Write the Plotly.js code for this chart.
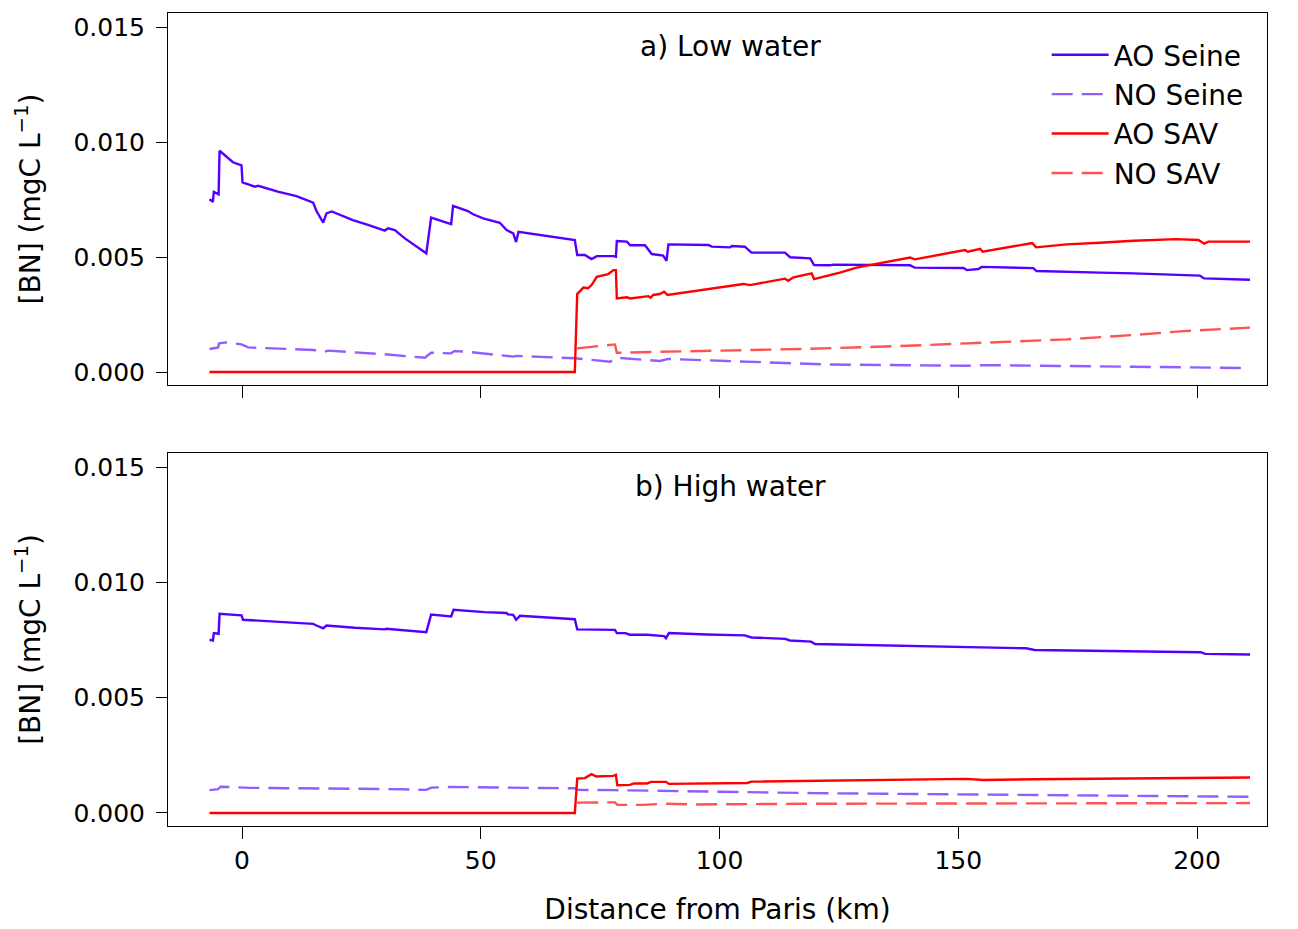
<!DOCTYPE html>
<html>
<head>
<meta charset="utf-8">
<script src="https://cdn.plot.ly/plotly-3.0.1.min.js"></script>
<style>html,body{margin:0;padding:0;background:#fff;}#chart{width:1298px;height:929px;}</style>
</head>
<body>
<div id="chart"></div>
<script>
// ---- a) Low water ----
const lowAoSeineKm = [-6.8,-6.1,-5.9,-4.9,-4.7,-3.3,-1.9,-0.1,0.1,2.7,3.4,7.5,11.4,14.9,15.6,17.0,17.7,18.8,23.2,26.4,29.9,30.6,32.0,34.1,36.2,38.6,39.6,43.8,44.2,47.3,48.4,50.5,54.0,55.4,56.8,57.4,57.9,69.7,70.2,71.8,73.2,74.3,77.8,78.3,78.5,80.6,81.3,84.4,85.8,88.2,88.9,89.3,97.7,98.4,102.2,102.6,105.3,106.7,113.7,114.8,119.0,119.8,123.1,123.8,139.9,140.9,151.1,151.8,154.2,154.9,165.7,166.4,179.7,186.7,200.6,201.5,211.1];
const lowAoSeine = [0.00751,0.0074,0.00783,0.00773,0.00962,0.00936,0.00912,0.00899,0.00825,0.00806,0.0081,0.00784,0.00765,0.00736,0.007,0.0065,0.0069,0.00698,0.0066,0.0064,0.00615,0.00625,0.00617,0.00581,0.00549,0.00516,0.00671,0.00643,0.00722,0.007,0.00686,0.00668,0.00649,0.00617,0.00603,0.00565,0.0061,0.00574,0.00509,0.00509,0.00491,0.00504,0.00504,0.00501,0.0057,0.00567,0.00551,0.00551,0.00513,0.00506,0.00483,0.00555,0.00552,0.00545,0.00542,0.00548,0.00545,0.00519,0.00519,0.00499,0.00494,0.00465,0.00464,0.00467,0.00464,0.00454,0.00452,0.00443,0.00448,0.00457,0.00452,0.00439,0.00432,0.00429,0.00419,0.00407,0.00401];

const lowNoSeineKm = [-6.8,-5.0,-4.8,-3.3,-0.1,1.3,14.9,17.3,18.0,29.9,38.3,39.6,43.8,44.4,47.3,56.8,57.5,69.7,77.1,78.5,87.5,89.3,101.5,117.6,122.4,151.8,155.2,186.7,211.1];
const lowNoSeine = [0.001,0.00107,0.00125,0.00129,0.0012,0.00107,0.00096,0.00088,0.00093,0.00077,0.00062,0.00084,0.00081,0.00091,0.00088,0.00067,0.0007,0.0006,0.00045,0.00062,0.00048,0.00057,0.00048,0.00038,0.00033,0.00027,0.0003,0.00023,0.00017];

const lowAoSavKm = [-6.8,69.7,70.2,71.5,72.5,73.2,74.3,76.7,77.8,78.3,78.5,80.6,81.3,85.1,85.6,86.1,87.5,88.4,89.1,98.0,105.0,106.4,113.7,114.4,115.5,119.3,119.8,125.2,128.7,139.9,140.9,151.4,152.0,154.6,155.1,165.0,165.5,166.3,172.7,179.7,186.7,195.7,200.3,201.5,202.4,211.1];
const lowAoSav = [0,0,0.00339,0.00367,0.00364,0.00378,0.00414,0.00426,0.00443,0.00443,0.0032,0.00325,0.0032,0.0033,0.00323,0.00335,0.00339,0.00349,0.00335,0.00361,0.00383,0.00378,0.00406,0.00397,0.00412,0.00429,0.00404,0.00432,0.00454,0.00498,0.0049,0.0053,0.00523,0.00536,0.00523,0.00559,0.00561,0.00542,0.00555,0.00562,0.00571,0.00578,0.00574,0.00558,0.00567,0.00567];

const lowNoSavKm = [70.2,73.6,78.1,78.5,79.5,87.5,101.5,116.9,137.8,158.7,172.7,186.7,197.1,211.1];
const lowNoSav = [0.00103,0.0011,0.0012,0.00084,0.00084,0.00088,0.00093,0.001,0.00113,0.00129,0.00142,0.00161,0.00178,0.00193];

// ---- b) High water ----
const highAoSeineKm = [-6.8,-6.1,-5.9,-4.9,-4.7,-0.1,0.2,2.7,14.9,15.6,17.0,17.7,23.6,29.9,30.2,38.6,39.6,43.8,44.3,50.8,55.4,55.7,56.8,57.4,58.2,69.7,70.2,78.1,78.5,80.3,81.2,84.8,88.4,88.8,89.4,97.3,105.3,106.7,113.8,114.7,119.2,120.0,128.5,146.4,164.2,166.0,182.1,200.8,201.7,211.1];
const highAoSeine = [0.00751,0.00748,0.0078,0.00777,0.00864,0.00857,0.00838,0.00835,0.0082,0.00813,0.00801,0.00813,0.00803,0.00796,0.00799,0.00784,0.0086,0.00852,0.00881,0.00871,0.00867,0.00861,0.00859,0.00838,0.00855,0.0084,0.00796,0.00794,0.0078,0.0078,0.00773,0.00773,0.00767,0.00758,0.0078,0.00774,0.0077,0.00761,0.00755,0.00748,0.00743,0.00733,0.00729,0.00722,0.00714,0.00707,0.00701,0.00697,0.0069,0.00687];

const highNoSeineKm = [-6.8,-5.0,-4.5,-0.1,1.9,33.4,38.6,39.6,43.8,54.3,69.7,70.4,78.1,119.6,164.2,211.1];
const highNoSeine = [0.00099,0.00103,0.00114,0.00112,0.00109,0.00103,0.001,0.0011,0.00113,0.0011,0.00107,0.001,0.00099,0.00086,0.00078,0.0007];

const highAoSavKm = [-6.8,69.7,70.2,71.8,73.2,74.2,77.7,78.3,78.6,81.2,82.1,84.8,85.7,88.8,89.4,105.8,106.7,119.6,141.0,151.7,155.3,166.0,211.1];
const highAoSav = [0,0,0.00149,0.00151,0.00168,0.00158,0.00161,0.00165,0.0012,0.00122,0.00128,0.00128,0.00135,0.00135,0.00126,0.0013,0.00136,0.00139,0.00143,0.00148,0.00143,0.00146,0.00154];

const highNoSavKm = [70.2,78.1,78.6,84.0,88.4,95.0,119.6,164.2,211.1];
const highNoSav = [0.00045,0.00046,0.00035,0.00035,0.0004,0.00037,0.0004,0.00042,0.00043];

const seriesNames = ['AO Seine','NO Seine','AO SAV','NO SAV'];
const panelTitles = ['a) Low water','b) High water'];
const yTickVals = [0, 0.005, 0.010, 0.015];
const yTickText = ['0.000','0.005','0.010','0.015'];
const xTickVals = [0, 50, 100, 150, 200];

const FONT = 'DejaVu Sans';
const cSeine = '#5500ff';
const cSeineNO = 'rgba(119,51,255,0.8)';
const cSav = '#ff0000';
const cSavNO = 'rgba(255,40,40,0.8)';
const DASH = '21px,9px';

function tr(x, y, name, color, dash, xa, ya, show) {
  return {x: x, y: y, name: name, type: 'scatter', mode: 'lines',
    line: {color: color, width: 2.4, dash: dash},
    xaxis: xa, yaxis: ya, showlegend: show, hoverinfo: 'skip'};
}

const data = [
  tr(lowAoSeineKm, lowAoSeine, seriesNames[0], cSeine, 'solid', 'x', 'y', true),
  tr(lowNoSeineKm, lowNoSeine, seriesNames[1], cSeineNO, DASH, 'x', 'y', true),
  tr(lowAoSavKm, lowAoSav, seriesNames[2], cSav, 'solid', 'x', 'y', true),
  tr(lowNoSavKm, lowNoSav, seriesNames[3], cSavNO, DASH, 'x', 'y', true),
  tr(highAoSeineKm, highAoSeine, seriesNames[0], cSeine, 'solid', 'x2', 'y2', false),
  tr(highNoSeineKm, highNoSeine, seriesNames[1], cSeineNO, DASH, 'x2', 'y2', false),
  tr(highAoSavKm, highAoSav, seriesNames[2], cSav, 'solid', 'x2', 'y2', false),
  tr(highNoSavKm, highNoSav, seriesNames[3], cSavNO, DASH, 'x2', 'y2', false)
];

const tickFont = {family: FONT, size: 25, color: '#000'};
const titleFont = {family: FONT, size: 28, color: '#000'};
const xRange = [-15.5, 214.66];
const yRange = [-0.000565, 0.01561];

function xAxis(extra) {
  return Object.assign({range: xRange, showgrid: false, zeroline: false,
    showline: true, linecolor: '#000', linewidth: 1, mirror: true,
    ticks: 'outside', ticklen: 12, tickwidth: 1, tickcolor: '#000',
    tickvals: xTickVals, tickfont: tickFont}, extra);
}
function yAxis(extra) {
  return Object.assign({range: yRange, showgrid: false, zeroline: false,
    showline: true, linecolor: '#000', linewidth: 1, mirror: true,
    ticks: 'outside', ticklen: 11, tickwidth: 1, tickcolor: '#000',
    tickvals: yTickVals, ticktext: yTickText, tickfont: tickFont,
    ticklabelstandoff: 6,
    title: {text: '[BN] (mgC L<sup>−1</sup>)', font: titleFont, standoff: 24}}, extra);
}

const layout = {
  width: 1298, height: 929,
  paper_bgcolor: '#fff', plot_bgcolor: '#fff',
  margin: {l: 168, r: 31, t: 13, b: 103},
  font: {family: FONT, color: '#000'},
  xaxis: xAxis({domain: [0, 1], anchor: 'y', showticklabels: false, matches: 'x2'}),
  yaxis: yAxis({domain: [0.5424, 1], anchor: 'x'}),
  xaxis2: xAxis({domain: [0, 1], anchor: 'y2',
    title: {text: 'Distance from Paris (km)', font: titleFont, standoff: 25}}),
  yaxis2: yAxis({domain: [0, 0.4588], anchor: 'x2'}),
  legend: {x: 0.7995, y: 0.979, xanchor: 'left', yanchor: 'top',
    font: {family: FONT, size: 28, color: '#000'}, bgcolor: 'rgba(0,0,0,0)',
    itemwidth: 57, tracegroupgap: 0},
  annotations: [
    {text: panelTitles[0], xref: 'x domain', yref: 'y domain', x: 0.5114, y: 0.911,
      xanchor: 'center', yanchor: 'middle', showarrow: false, font: titleFont},
    {text: panelTitles[1], xref: 'x2 domain', yref: 'y2 domain', x: 0.5114, y: 0.911,
      xanchor: 'center', yanchor: 'middle', showarrow: false, font: titleFont}
  ],
  showlegend: true
};

Plotly.newPlot('chart', data, layout, {staticPlot: true, displayModeBar: false});
</script>
</body>
</html>
